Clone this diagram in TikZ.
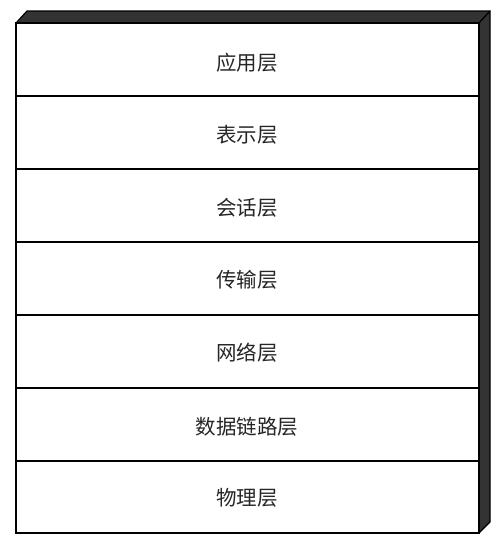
\documentclass[tikz,border=0pt]{standalone}
\usepackage{fontspec}
\newfontfamily\cjk{Noto Sans CJK SC}
\begin{document}
\begin{tikzpicture}[x=1pt,y=-1pt,
  face/.style={fill=black!80,draw=black,line width=1.2pt,line join=round},
  front/.style={draw=black,line width=2.6pt,fill=white},
  divider/.style={draw=black,line width=1.8pt},
  lbl/.style={font=\cjk\fontsize{20.5}{24}\selectfont,text=black!85}]
\useasboundingbox (0,0) rectangle (500,547);
% 3D faces
\coordinate (ftl) at (16,23);
\coordinate (ftr) at (479,23);
\coordinate (fbr) at (479,533);
\coordinate (fbl) at (16,533);
\coordinate (btl) at (27,11);
\coordinate (btr) at (490,11);
\coordinate (bbr) at (490,522);
\draw[face] (ftl) -- (btl) -- (btr) -- (ftr) -- cycle;
\draw[face] (ftr) -- (btr) -- (bbr) -- (fbr) -- cycle;
% front face
\draw[front] (ftl) rectangle (fbr);
% dividers
\foreach \y [count=\i] in {96,169,242,315,388,461}{
  \coordinate (l\i) at (16,\y);
  \coordinate (r\i) at (479,\y);
  \draw[divider] (l\i) -- (r\i);
}
% labels
\node[lbl] (app)  at (247,63)  {应用层};
\node[lbl] (pres) at (247,135) {表示层};
\node[lbl] (sess) at (247,208) {会话层};
\node[lbl] (tran) at (247,280) {传输层};
\node[lbl] (net)  at (247,353) {网络层};
\node[lbl] (link) at (247,427) {数据链路层};
\node[lbl] (phy)  at (247,498) {物理层};
\end{tikzpicture}
\end{document}
